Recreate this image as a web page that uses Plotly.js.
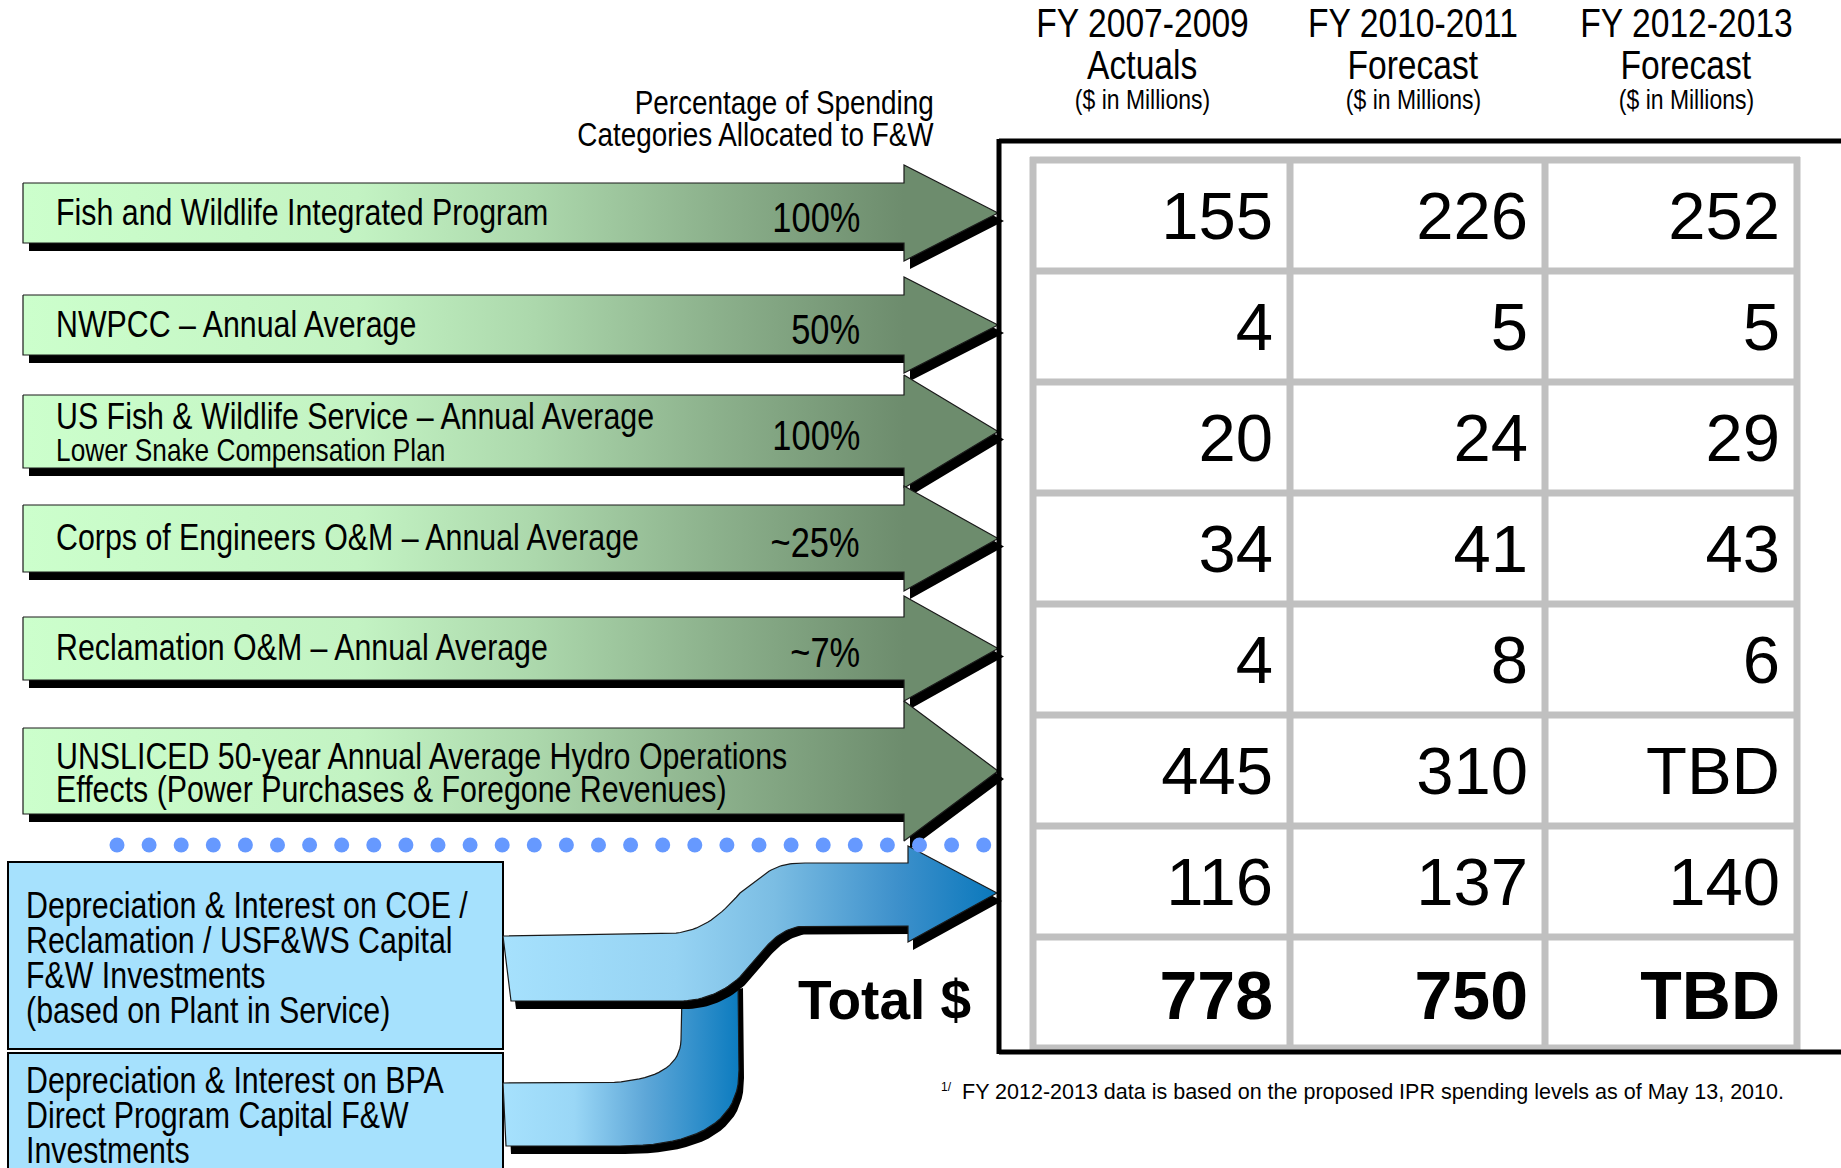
<!DOCTYPE html>
<html><head><meta charset="utf-8">
<script src="https://cdn.plot.ly/plotly-3.0.1.min.js"></script>
<style>html,body{margin:0;padding:0;background:#fff;overflow:hidden}#chart{width:1841px;height:1168px}</style>
</head><body><div id="chart"></div>
<script>
// ---------------- DATA ----------------
const periods = ['FY 2007-2009', 'FY 2010-2011', 'FY 2012-2013'];
const periodTypes = ['Actuals', 'Forecast', 'Forecast'];
const unitsLabel = '($ in Millions)';
const categoryLines = [
  ['Fish and Wildlife Integrated Program'],
  ['NWPCC – Annual Average'],
  ['US Fish & Wildlife Service – Annual Average'],
  ['Corps of Engineers O&M – Annual Average'],
  ['Reclamation O&M – Annual Average'],
  ['UNSLICED 50-year Annual Average Hydro Operations', 'Effects (Power Purchases & Foregone Revenues)']
];
const subLabels = ['', '', 'Lower Snake Compensation Plan', '', '', ''];
const pctAllocated = ['100%', '50%', '100%', '~25%', '~7%', ''];
const capitalLines = [
  ['Depreciation & Interest on COE /', 'Reclamation / USF&WS Capital', 'F&W Investments', '(based on Plant in Service)'],
  ['Depreciation & Interest on BPA', 'Direct Program Capital F&W', 'Investments']
];
const fy2007_2009 = [155, 4, 20, 34, 4, 445, 116];
const fy2010_2011 = [226, 5, 24, 41, 8, 310, 137];
const fy2012_2013 = [252, 5, 29, 43, 6, 'TBD', 140];
const totals = [778, 750, 'TBD'];
const totalLabel = 'Total $';
const pctHeader = ['Percentage of Spending', 'Categories Allocated to F&W'];
const footnoteMark = '1/';
const footnote = 'FY 2012-2013 data is based on the proposed IPR spending levels as of May 13, 2010.';

// ---------------- LAYOUT GEOMETRY ----------------
const W = 1841, H = 1168;
const ARIAL = '"Liberation Sans", Arial, Helvetica, sans-serif';
const NARROW_SX = 0.82;   // Arial Narrow = Arial condensed horizontally
const traces = [], shapes = [], annotations = [], annScale = [];

// green arrows geometry
const arrowLeft = 23, headBase = 904, tipX = 998;
const bodyTop = [183, 295, 395, 505, 617, 728];
const bodyBot = [243, 355, 468, 572, 680, 814];
const headExt = [18, 18, 20, 19, 21, 27];
const shadowDX = 6, shadowDY = 8;
const greenScale = [[0, '#ccffcc'], [0.38, '#c3f3c3'], [0.58, '#acd8ac'], [0.78, '#8db28d'], [1, '#6d8c6d']];

function addPoly(xs, ys, opts) {
  const t = {type: 'scatter', mode: 'lines', x: xs, y: ys, fill: 'toself', hoverinfo: 'skip', showlegend: false,
    line: {color: opts.lineColor || 'rgba(0,0,0,0)', width: opts.lineWidth || 0}};
  if (opts.grad) t.fillgradient = opts.grad; else t.fillcolor = opts.fill;
  traces.push(t);
}

categoryLines.forEach((lines, i) => {
  const t = bodyTop[i], b = bodyBot[i], e = headExt[i], m = (t + b) / 2;
  const xs = [arrowLeft, headBase, headBase, tipX, headBase, headBase, arrowLeft, arrowLeft];
  const ys = [t, t, t - e, m, b + e, b, b, t];
  addPoly(xs.map(v => v + shadowDX), ys.map(v => v + shadowDY), {fill: '#000'});
  addPoly(xs, ys, {grad: {type: 'horizontal', colorscale: greenScale, start: arrowLeft, stop: headBase}, lineColor: '#1a1a1a', lineWidth: 1.2});
});

// Bezier path helper
function buildPath(start, segs) {
  const xs = [start[0]], ys = [start[1]];
  let cur = start;
  segs.forEach(s => {
    if (s.length === 2) { xs.push(s[0]); ys.push(s[1]); cur = s; }
    else {
      const [c1x, c1y, c2x, c2y, ex, ey] = s;
      for (let k = 1; k <= 20; k++) {
        const u = k / 20, v = 1 - u;
        xs.push(v*v*v*cur[0] + 3*v*v*u*c1x + 3*v*u*u*c2x + u*u*u*ex);
        ys.push(v*v*v*cur[1] + 3*v*v*u*c1y + 3*v*u*u*c2y + u*u*u*ey);
      }
      cur = [ex, ey];
    }
  });
  xs.push(start[0]); ys.push(start[1]);
  return [xs, ys];
}

// blue boxes
const boxFill = '#a6e1fd';
shapes.push({type: 'rect', xref: 'x', yref: 'y', x0: 8, x1: 503, y0: 862, y1: 1049, fillcolor: boxFill, line: {color: '#000', width: 2}, layer: 'below'});
shapes.push({type: 'rect', xref: 'x', yref: 'y', x0: 8, x1: 503, y0: 1053, y1: 1180, fillcolor: boxFill, line: {color: '#000', width: 2}, layer: 'below'});

// lower blue arrow
const lowerPath = buildPath([503, 1083], [
  [600, 1083], [650, 1082, 680, 1070, 681, 1040], [682, 995], [738, 980], [739, 1070],
  [740, 1120, 700, 1146, 620, 1146], [506, 1146]
]);
const blueLower = [[0, '#a6e1fd'], [0.3, '#9ad7f6'], [0.6, '#5ea7d8'], [1, '#0b7bbf']];
addPoly(lowerPath[0].map(v => v + 5), lowerPath[1].map(v => v + 8), {fill: '#000'});
addPoly(lowerPath[0], lowerPath[1], {grad: {type: 'horizontal', colorscale: blueLower, start: 503, stop: 740}, lineColor: '#1a1a1a', lineWidth: 1.2});

// upper blue arrow
const upperPath = buildPath([503, 936], [
  [662, 934], [695, 934, 715, 922, 740, 893], [762, 876], [778, 864, 790, 863, 805, 863],
  [908, 863], [908, 846], [997, 893], [908, 942], [908, 926], [806, 926],
  [790, 926, 776, 935, 765, 948], [745, 972], [728, 990, 705, 1001, 680, 1001], [511, 1001]
]);
const blueUpper = [[0, '#a6e1fd'], [0.35, '#96d3f3'], [0.55, '#7bbde3'], [0.8, '#3d90cb'], [1, '#0a78bc']];
addPoly(upperPath[0].map(v => v + 5), upperPath[1].map(v => v + 8), {fill: '#000'});
addPoly(upperPath[0], upperPath[1], {grad: {type: 'horizontal', colorscale: blueUpper, start: 503, stop: 997}, lineColor: '#1a1a1a', lineWidth: 1.2});

// dotted separator
const dotX = []; const dotY = [];
for (let i = 0; i < 28; i++) { dotX.push(117 + i * 32.1); dotY.push(845); }
traces.push({type: 'scatter', mode: 'markers', x: dotX, y: dotY, hoverinfo: 'skip', showlegend: false,
  marker: {size: 15, color: '#6699ff', line: {width: 0}}});

// table grid
const rowTop = 160, rowH = 111;
const colEdges = [1033, 1290, 1545, 1797];
const nRows = fy2007_2009.length + 1;
const gridGray = '#c0c0c0';
for (let r = 0; r <= nRows; r++) {
  shapes.push({type: 'line', xref: 'x', yref: 'y', x0: colEdges[0] - 3, x1: colEdges[3] + 3, y0: rowTop + r * rowH, y1: rowTop + r * rowH, line: {color: gridGray, width: 7}, layer: 'below'});
}
colEdges.forEach(cx => {
  shapes.push({type: 'line', xref: 'x', yref: 'y', x0: cx, x1: cx, y0: rowTop - 3, y1: rowTop + nRows * rowH + 3, line: {color: gridGray, width: 7}, layer: 'below'});
});
// black frame
const frameL = 999, frameT = 141, frameB = 1052;
shapes.push({type: 'line', xref: 'x', yref: 'y', x0: frameL, x1: W + 5, y0: frameT, y1: frameT, line: {color: '#000', width: 5}, layer: 'above'});
shapes.push({type: 'line', xref: 'x', yref: 'y', x0: frameL, x1: frameL, y0: frameT - 2, y1: frameB + 2, line: {color: '#000', width: 5}, layer: 'above'});
shapes.push({type: 'line', xref: 'x', yref: 'y', x0: frameL, x1: W + 5, y0: frameB, y1: frameB, line: {color: '#000', width: 5}, layer: 'above'});

// table numbers
const numShift = 7;
const rowY = Array.from({length: nRows - 1}, (_, i) => rowTop + rowH * (i + 0.5) + numShift);
const totalY = rowTop + rowH * (nRows - 0.5) + numShift + 2;
const numPad = 17;
[fy2007_2009, fy2010_2011, fy2012_2013].forEach((vals, c) => {
  traces.push({type: 'scatter', mode: 'text', x: vals.map(() => colEdges[c + 1] - numPad), y: rowY,
    text: vals.map(String), textposition: 'middle left', hoverinfo: 'skip', showlegend: false,
    textfont: {family: ARIAL, size: 67, color: '#000'}});
});
traces.push({type: 'scatter', mode: 'text', x: totals.map((_, c) => colEdges[c + 1] - numPad), y: totals.map(() => totalY),
  text: totals.map(String), textposition: 'middle left', hoverinfo: 'skip', showlegend: false,
  textfont: {family: ARIAL, size: 68, color: '#000', weight: 'bold'}});

// ---------------- TEXT ----------------
function ann(text, x, y, size, xanchor, sx) {
  annotations.push({text: text, x: x, y: y, xref: 'x', yref: 'y', showarrow: false,
    xanchor: xanchor, yanchor: 'middle', font: {family: ARIAL, size: size, color: '#000'}});
  annScale.push(sx === undefined ? NARROW_SX : sx);
}
// column headers
const headerX = [1142, 1413, 1686];
periods.forEach((p, i) => {
  ann(p, headerX[i], 23, 41, 'center');
  ann(periodTypes[i], headerX[i], 65, 41, 'center');
  ann(unitsLabel, headerX[i], 99, 28, 'center');
});
ann(pctHeader[0], 936, 102, 34, 'right');
ann(pctHeader[1], 936, 134, 34, 'right');

// arrow labels
const labelX = 54, pctX = 862;
categoryLines.forEach((lines, i) => {
  const t = bodyTop[i], b = bodyBot[i], m = (t + b) / 2;
  if (subLabels[i]) {
    ann(lines[0], labelX, m - 15, 37, 'left');
    ann(subLabels[i], labelX, m + 18, 32, 'left');
  } else if (lines.length === 2) {
    ann(lines[0], labelX, m - 15, 37, 'left');
    ann(lines[1], labelX, m + 18, 37, 'left');
  } else {
    ann(lines[0], labelX, m - 1, 37, 'left');
  }
  if (pctAllocated[i]) ann(pctAllocated[i], pctX, m + 4, 42, 'right');
});

// capital boxes
const capY0 = [905, 1080];
capitalLines.forEach((lines, b) => {
  lines.forEach((ln, k) => ann(ln, 24, capY0[b] + k * 35, 37, 'left'));
});

ann('<b>' + totalLabel + '</b>', 796, 1000, 55, 'left', 1);
ann(footnoteMark, 939, 1087, 12, 'left', 1);
ann(footnote, 960, 1092, 21.5, 'left', 1);

const layout = {
  width: W, height: H, margin: {l: 0, r: 0, t: 0, b: 0, pad: 0},
  paper_bgcolor: '#fff', plot_bgcolor: '#fff', showlegend: false,
  xaxis: {range: [0, W], visible: false, fixedrange: true},
  yaxis: {range: [H, 0], visible: false, fixedrange: true},
  shapes: shapes, annotations: annotations, hovermode: false
};

// condense narrow-font annotations horizontally around their anchor (emulates Arial Narrow)
function condense(gd) {
  annotations.forEach((a, i) => {
    const sx = annScale[i];
    if (sx === 1) return;
    const g = gd.querySelector('g.annotation[data-index="' + i + '"]');
    if (!g) return;
    const txt = g.querySelector('text.annotation-text');
    if (!txt) return;
    const bb = txt.getBBox();
    let pivot = bb.x + bb.width / 2;
    if (a.xanchor === 'left') pivot = bb.x;
    else if (a.xanchor === 'right') pivot = bb.x + bb.width;
    const prev = txt.getAttribute('transform') || '';
    txt.setAttribute('transform', prev + ' translate(' + (pivot * (1 - sx)) + ',0) scale(' + sx + ',1)');
  });
}
Plotly.newPlot('chart', traces, layout, {displayModeBar: false, staticPlot: true}).then(condense);
</script></body></html>
